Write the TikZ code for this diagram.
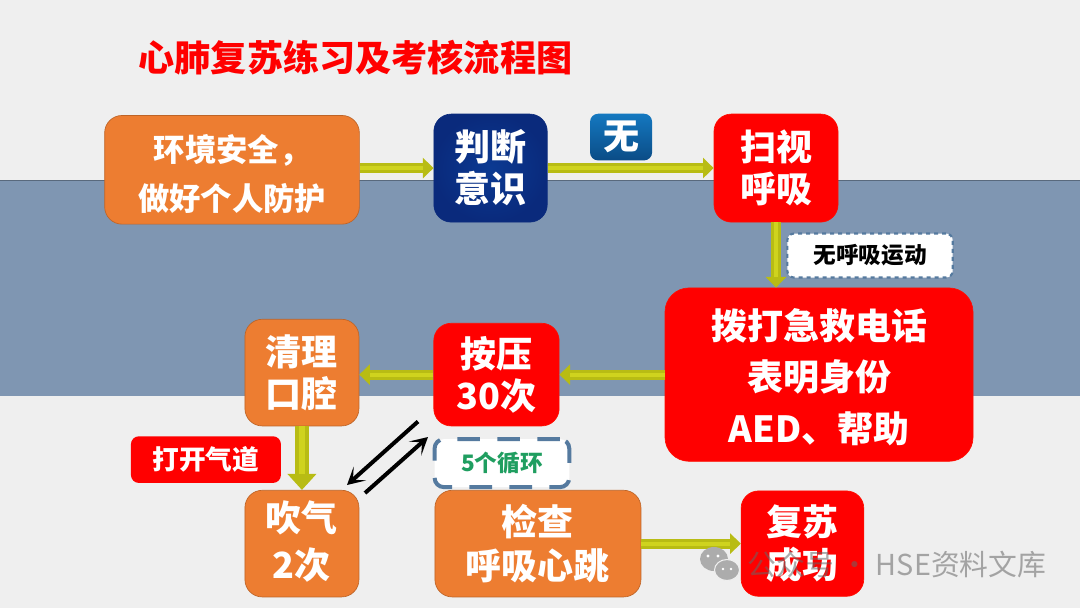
\documentclass[tikz,border=0pt]{standalone}
\usepackage{fontspec}
\setmainfont{Noto Sans CJK SC}
\usetikzlibrary{arrows.meta}

\definecolor{bgcol}{HTML}{EFEFEF}
\definecolor{bandcol}{HTML}{7F96B2}
\definecolor{orangecol}{HTML}{ED7D31}
\definecolor{olivecol}{HTML}{B8BC14}
\definecolor{olivelight}{HTML}{CFD31E}
\definecolor{dashcol}{HTML}{557A9F}
\definecolor{navytop}{HTML}{0A2A7C}
\definecolor{navymid}{HTML}{0B3A92}
\definecolor{nonetop}{HTML}{1478C0}
\definecolor{nonebottom}{HTML}{0B4C86}
\definecolor{cyclegreen}{HTML}{1F9E60}

\tikzset{
  box/.style={rounded corners=13pt,align=center,inner sep=0pt,text=white,font=\bfseries\fontsize{27}{31.5}\selectfont},
  orangebox/.style={box,fill=orangecol,draw=orangecol!80!black,line width=0.5pt},
  redbox/.style={box,fill=red,draw=red!90!orange,line width=0.5pt},
  blockarrow/.style={olivecol,line width=7.5pt,-{Triangle[length=8pt,width=15pt]},
    postaction={draw=olivelight,line width=3pt,-,shorten >=8pt}},
  bigarrow/.style={olivecol,line width=10pt,-{Triangle[length=12pt,width=21pt]},
    postaction={draw=olivelight,line width=4pt,-,shorten >=12pt}},
  cyclearrow/.style={black,line width=3pt,-{Stealth[length=13pt,width=14pt,inset=7pt]}}
}

\begin{document}
\begin{tikzpicture}[x=0.75pt,y=-0.75pt]
\useasboundingbox (0,0) rectangle (1080,608);

% background
\fill[bgcol] (0,0) rectangle (1080,608);
\fill[bandcol] (0,180) rectangle (1080,396);
\draw[bandcol!70!black,line width=0.4pt] (0,180) -- (1080,180);

% nodes
\node (title) at (355.5,58) [text=red,font=\bfseries\fontsize{27.1}{32}\selectfont] {心肺复苏练习及考核流程图};
\node (env) at (232,169.8) [orangebox,minimum width=191pt,minimum height=81.5pt,font=\bfseries\fontsize{23.5}{37}\selectfont] {\rule{0pt}{27pt}环境安全，\\做好个人防护};
\node (judge) [box,right of=env,node distance=193.9pt,yshift=1.3pt,minimum width=85pt,minimum height=81pt,
  draw=navytop,line width=0.5pt,inner color=navymid,outer color=navytop] {判断\\意识};
\node (scan) [redbox,right of=judge,node distance=214.1pt,minimum width=93pt,minimum height=81pt] {扫视\\呼吸};
\node (none) [box,right of=judge,node distance=97.9pt,yshift=23.25pt,minimum width=46.5pt,minimum height=35pt,rounded corners=6pt,
  top color=nonetop,bottom color=nonebottom] {无};
\node (nobreath) [right of=scan,node distance=70.5pt,yshift=-65.6pt,minimum width=124pt,minimum height=33pt,rounded corners=5pt,
  fill=white,draw=dashcol,dashed,line width=1.6pt,font=\bfseries\fontsize{17}{20}\selectfont] {无呼吸运动};
\node (call) [redbox,below of=scan,node distance=154.9pt,xshift=32.25pt,minimum width=231pt,minimum height=130pt,rounded corners=18pt,
  font=\bfseries\fontsize{27}{38.5}\selectfont] {\rule{0pt}{27pt}拨打急救电话\\表明身份\\AED、帮助};
\node (press) [redbox,left of=call,node distance=241.9pt,minimum width=94pt,minimum height=77pt] {按压\\30次};
\node (clean) [orangebox,left of=press,node distance=145.9pt,yshift=1.5pt,minimum width=85.5pt,minimum height=80pt] {清理\\口腔};
\node (open) [box,left of=clean,node distance=72pt,yshift=-65.25pt,minimum width=112.5pt,minimum height=35pt,rounded corners=6pt,
  fill=red,font=\bfseries\fontsize{20}{24}\selectfont] {打开气道};
\node (cycle) [below of=press,node distance=66.4pt,xshift=4.1pt,minimum width=101pt,minimum height=36pt,rounded corners=7pt,
  fill=white,draw=dashcol,line width=3pt,dash pattern=on 17pt off 13pt,text=cyclegreen,font=\bfseries\fontsize{17}{20}\selectfont] {5个循环};
\node (blow) [orangebox,below of=clean,node distance=128.25pt,font=\bfseries\fontsize{27}{35}\selectfont,minimum width=85.5pt,minimum height=80pt] {吹气\\2次\rule[-6pt]{0pt}{0pt}};
\node (check) [orangebox,right of=blow,node distance=177pt,minimum width=154.5pt,minimum height=80pt,font=\bfseries\fontsize{27}{33}\selectfont] {检查\\呼吸心跳};
\node (success) [redbox,right of=check,node distance=198.4pt,minimum width=92pt,minimum height=79pt,font=\bfseries\fontsize{27}{32.5}\selectfont] {复苏\\成功};

% free ends of the black arrows
\coordinate (pressout) at (418,421.5);
\coordinate (blowin) at (347,485);
\coordinate (blowout) at (365,493);
\coordinate (pressin) at (428,437);

% arrows
\draw[blockarrow] (env.east |- judge.west) -- (judge.west);
\draw[blockarrow] (judge) -- (scan);
\draw[blockarrow] (scan.south) -- (scan.south |- call.north);
\draw[blockarrow] (call) -- (press);
\draw[blockarrow] (press.west) -- (press.west -| clean.east);
\draw[bigarrow] (clean) -- (blow);
\draw[blockarrow] (check) -- (success);
\draw[cyclearrow] (pressout) -- (blowin);
\draw[cyclearrow] (blowout) -- (pressin);

% watermark
\fill[gray!65] (714,559) ellipse (14 and 12);
\fill[gray!65,draw=bgcol,line width=0.8pt] (727,570) ellipse (12.5 and 10.5);
\fill[white] (708,556) circle (1.6) (718,556) circle (1.6) (723,569) circle (1.4) (731,569) circle (1.4);
\node (mark) at (897,565) [text=black!60,opacity=0.55,font=\fontsize{21.6}{26}\selectfont] {公众号 · HSE资料文库};
\end{tikzpicture}
\end{document}
